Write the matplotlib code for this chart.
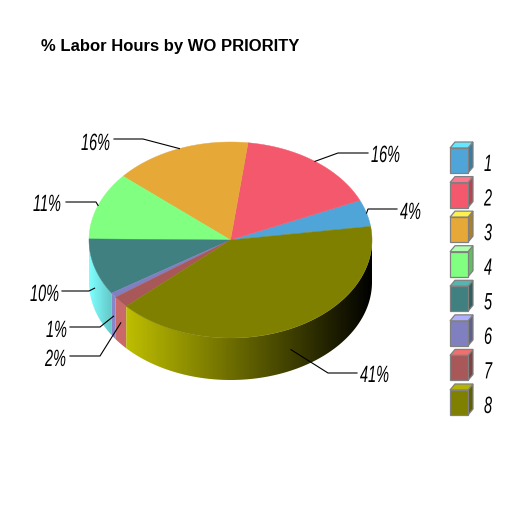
import numpy as np
import matplotlib
matplotlib.use("Agg")
import matplotlib.pyplot as plt
from matplotlib.patches import Polygon
from matplotlib.patheffects import AbstractPathEffect
from matplotlib.transforms import Affine2D

# ---- data ----
categories = ["1", "2", "3", "4", "5", "6", "7", "8"]
values = [4.4, 16.4, 15.7, 11.1, 9.3, 0.8, 1.9, 40.4]
pct_labels = ["4%", "16%", "16%", "11%", "10%", "1%", "2%", "41%"]
title = "% Labor Hours by WO PRIORITY"

# ---- style ----
top_colors = ["#50A5D8", "#F4586C", "#E6A938", "#80FF80", "#408080", "#8080C0", "#A85858", "#808000"]
legend_top = ["#66E6FF", "#FF7890", "#FFF050", "#B0FFB0", "#55B5B0", "#B0B0FF", "#F07070", "#B5B500"]
legend_side = ["#3B7CA2", "#B74452", "#AC7F2A", "#60BF60", "#305F60", "#606090", "#7E4242", "#606000"]
side_shade = {4: ([89, 112], [2.0, 1.55]), 5: ([0, 511], [1.05, 1.05]),
              6: ([0, 511], [1.2, 1.2]), 7: ([127, 372], [1.48, 0.0])}
# elbow and end of each leader, then label left edge and baseline
leaders = [((368, 210), (397, 210), (400, 220)),
           ((338, 154), (368, 154), (371, 163)),
           ((143, 140), (114, 140), (81, 151)),
           ((96, 203), (66, 203), (33, 212)),
           ((89, 292), (62, 292), (30, 302)),
           ((100, 328), (70, 328), (46, 338)),
           ((100, 357), (70, 357), (45, 367)),
           ((328, 374), (357, 374), (360, 383))]
cx, cy, a, b, depth = 230.5, 241.0, 141.5, 98.0, 42.0
start_deg = 8.0


class Squeeze(AbstractPathEffect):
    """Narrow, tall lettering: rescales the glyph outlines about the text origin."""

    def __init__(self, sx, sy):
        super().__init__()
        self.sx, self.sy = sx, sy

    def draw_path(self, renderer, gc, tpath, affine, rgbFace=None):
        renderer.draw_path(gc, tpath, Affine2D().scale(self.sx, self.sy) + affine, rgbFace)


squeeze = [Squeeze(0.72, 1.17)]

plt.rcParams["font.family"] = ["Liberation Sans", "DejaVu Sans"]
fig = plt.figure(figsize=(5.11, 5.10), dpi=100, facecolor="white")
ax = fig.add_axes([0, 0, 1, 1])
ax.set_xlim(0, 511)
ax.set_ylim(510, 0)
ax.axis("off")

fr = np.array(values) / np.sum(values)
edges = start_deg + 360 * np.concatenate([[0], np.cumsum(fr)])


def rim(deg):
    t = np.radians(deg)
    return cx + a * np.cos(t), cy - b * np.sin(t)


# side walls (front half only)
for i in range(len(values)):
    lo, hi = max(edges[i], 180), min(edges[i + 1], 360)
    if lo >= hi or i not in side_shade:
        continue
    ts = np.linspace(lo, hi, 200)
    x, y = rim(ts)
    poly = np.vstack([np.column_stack([x, y]), np.column_stack([x[::-1], y[::-1] + depth])])
    xs = np.arange(int(x.min()) - 1, int(x.max()) + 3)
    f = np.interp(xs + 0.5, *side_shade[i])
    base = np.array(matplotlib.colors.to_rgb(top_colors[i]))
    img = np.clip(f[None, :, None] * base[None, None, :], 0, 1)
    im = ax.imshow(img, extent=(xs[0], xs[-1] + 1, 510, 0), aspect="auto", zorder=1, interpolation="nearest")
    clip = Polygon(poly, closed=True, transform=ax.transData, fc="none", ec="none")
    ax.add_patch(clip)
    im.set_clip_path(clip)
ax.set_xlim(0, 511)
ax.set_ylim(510, 0)

# top faces
for i in range(len(values)):
    ts = np.linspace(edges[i], edges[i + 1], 300)
    x, y = rim(ts)
    ax.add_patch(Polygon(np.vstack([[cx, cy], np.column_stack([x, y])]), closed=True,
                         fc=top_colors[i], ec=top_colors[i], lw=0.3, zorder=2))

# leaders and labels
for i, (elbow, end, pos) in enumerate(leaders):
    mid = (edges[i] + edges[i + 1]) / 2
    px, py = rim(mid)
    if np.sin(np.radians(mid)) < 0:
        py += depth / 2
    ax.plot([px, elbow[0], end[0]], [py, elbow[1], end[1]], color="black", lw=0.8, zorder=3,
            solid_joinstyle="miter")
    ax.text(pos[0], pos[1], pct_labels[i], ha="left", va="baseline", style="italic", fontsize=14.5,
            color="black", zorder=4, path_effects=squeeze)

# legend
lx0, lw_, lh, dx, dy = 450, 18, 25, 5, 6
tops = 149 + 34.57 * np.arange(len(categories))
for i, c in enumerate(categories):
    y0 = tops[i]
    ax.add_patch(Polygon([[lx0 + lw_, y0], [lx0 + lw_ + dx, y0 - dy], [lx0 + lw_ + dx, y0 + lh - dy], [lx0 + lw_, y0 + lh]],
                         closed=True, fc=legend_side[i], ec="#808080", lw=0.9, zorder=2))
    ax.add_patch(Polygon([[lx0, y0], [lx0 + dx, y0 - dy], [lx0 + lw_ + dx, y0 - dy], [lx0 + lw_, y0]],
                         closed=True, fc=legend_top[i], ec="#808080", lw=0.9, zorder=2))
    ax.add_patch(Polygon([[lx0, y0], [lx0 + lw_, y0], [lx0 + lw_, y0 + lh], [lx0, y0 + lh]],
                         closed=True, fc=top_colors[i], ec="#808080", lw=0.9, zorder=3))
    ax.text(484, y0 + 23, c, ha="left", va="baseline", style="italic", fontsize=14.5,
            color="black", path_effects=squeeze)

ax.text(41, 46, title, ha="left", va="center", fontweight="bold", fontsize=12, color="black")
fig.savefig("out.png", dpi=100, facecolor="white")
